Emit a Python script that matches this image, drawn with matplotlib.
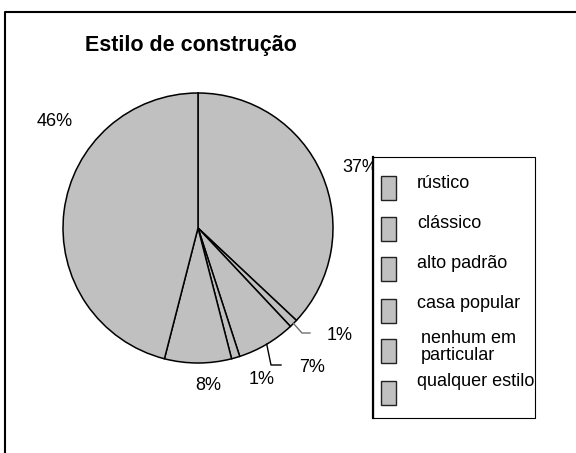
import matplotlib
matplotlib.use('Agg')
import matplotlib.pyplot as plt
from matplotlib.patches import Rectangle
import numpy as np

plt.rcParams['font.family'] = ['Liberation Sans', 'DejaVu Sans']

# ---- data ----
title = 'Estilo de construção'
categories = ['rústico', 'clássico', 'alto padrão', 'casa popular',
              'nenhum em\nparticular', 'qualquer estilo']
values = [37, 1, 7, 1, 8, 46]
pct_labels = [f'{v}%' for v in values]

# ---- layout (pixels, origin top-left) ----
W, H = 576, 453
fig = plt.figure(figsize=(W / 100, H / 100), dpi=100)
ax = fig.add_axes([0, 0, 1, 1])


def Y(y):
    return H - y


cx, cy, R = 198, 228, 135
wedges, _ = ax.pie(values, colors=['#C0C0C0'] * len(values), startangle=90,
                   counterclock=False, center=(cx, Y(cy)), radius=R,
                   wedgeprops=dict(edgecolor='black', linewidth=1.1),
                   frame=True)
ax.set_xlim(0, W)
ax.set_ylim(0, H)
ax.set_aspect('equal')
ax.axis('off')

# percentage labels (positions as placed in the reference)
label_pos = [(360, 167), (340, 335), (312, 368), (262, 380), (208, 385), (55, 121)]
for txt, (x, y) in zip(pct_labels, label_pos):
    ax.text(x, Y(y), txt, ha='center', va='center', fontsize=13, zorder=4)

# leader lines for small slices
leaders = {1: ((302, 333), (310, 333), '#707070'),
           2: ((271, 365), (281, 365), 'black')}
for i, (elbow, end, col) in leaders.items():
    w = wedges[i]
    mid = np.deg2rad((w.theta1 + w.theta2) / 2)
    sx, sy = cx + R * np.cos(mid), Y(cy) + R * np.sin(mid)
    ax.plot([sx, elbow[0], end[0]], [sy, Y(elbow[1]), Y(end[1])],
            color=col, lw=1.0, zorder=4)

# title
ax.text(85, Y(45), title, fontsize=15.5, weight='bold', ha='left', va='center')

# legend (manual)
lx0, ly0, lx1, ly1 = 373, 157, 535, 418
ax.add_patch(Rectangle((lx0, Y(ly1)), lx1 - lx0, ly1 - ly0, facecolor='white',
                       edgecolor='black', lw=0.8, zorder=5))
ax.plot([lx0, lx0], [Y(ly0), Y(ly1)], color='black', lw=1.6, zorder=6)
handle_tops = [176, 217, 257, 299, 339, 381]
text_y = [183, 223, 263, 304, 347, 381]
text_x = [417, 417, 417, 417, 421, 417]
for i, cat in enumerate(categories):
    ax.add_patch(Rectangle((381, Y(handle_tops[i] + 24)), 15, 24,
                           facecolor=wedges[i].get_facecolor(),
                           edgecolor='#222222', lw=1.0, zorder=6))
    ax.text(text_x[i], Y(text_y[i]), cat, fontsize=13, ha='left', va='center',
            linespacing=0.95, zorder=7)

# outer border (clipped at right/bottom)
ax.plot([5, 5, W + 10], [-10, Y(12), Y(12)], color='black', lw=1.5,
        clip_on=False, zorder=8)

fig.savefig('out.png', dpi=100)
